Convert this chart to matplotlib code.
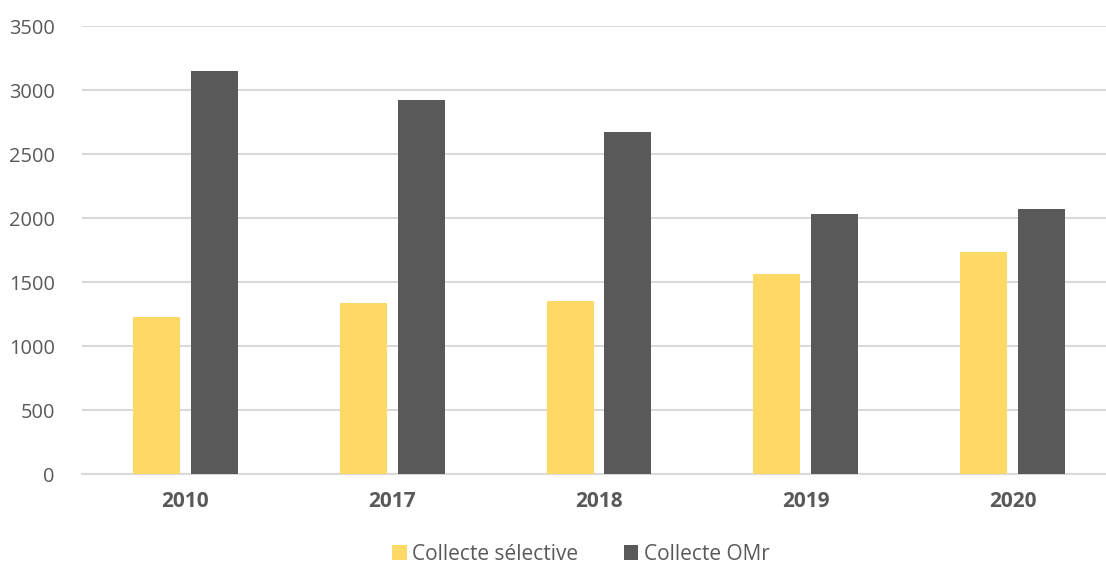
import numpy as np
import matplotlib.pyplot as plt

# donnees
annees = ['2010', '2017', '2018', '2019', '2020']
collecte_selective = [1228, 1335, 1352, 1562, 1732]
collecte_omr = [3148, 2922, 2672, 2031, 2071]

plt.rcParams['font.family'] = ['Open Sans', 'DejaVu Sans']

fig = plt.figure(figsize=(11.06, 5.67), dpi=100)
W, H = 1106, 567
# l'axe depasse un peu a droite comme dans l'original
ax = fig.add_axes([82 / W, 1 - 474 / H, 1034 / W, 448 / H])

x = np.arange(len(annees))
larg = 0.227
ax.bar(x - 0.14, collecte_selective, larg, color='#FFD966', label='Collecte sélective', zorder=3)
ax.bar(x + 0.14, collecte_omr, larg, color='#595959', label='Collecte OMr', zorder=3)

ax.set_xlim(-0.5, len(annees) - 0.5)
ax.set_ylim(0, 3500)
ax.set_yticks(np.arange(0, 3501, 500))
ax.set_xticks(x)
ax.set_xticklabels(annees, fontweight='bold', fontsize=15, color='#595959')
ax.tick_params(axis='y', labelsize=14.4, labelcolor='#595959', length=0, pad=19.5)
ax.tick_params(axis='x', length=0, pad=12)

ax.grid(axis='y', color='#D9D9D9', linewidth=1.5, zorder=0)
for s in ['top', 'right', 'left']:
    ax.spines[s].set_visible(False)
ax.spines['bottom'].set_color('#D9D9D9')
ax.spines['bottom'].set_linewidth(1.5)

leg = fig.legend(loc='center', bbox_to_anchor=(0.525, 1 - 554 / H), ncol=2, frameon=False,
                 fontsize=15, handlelength=0.7, handleheight=0.7, handletextpad=0.25,
                 columnspacing=2.2, borderpad=0.2)
for t in leg.get_texts():
    t.set_color('#595959')

fig.savefig('out.png', dpi=100)
